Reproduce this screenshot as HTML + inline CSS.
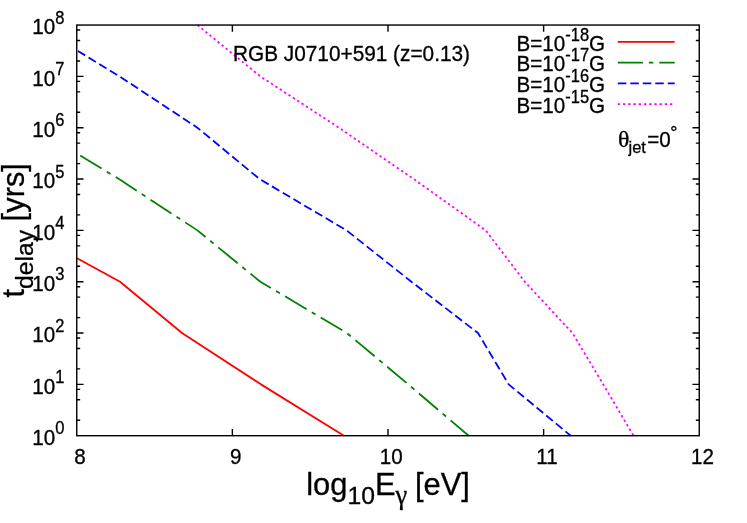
<!DOCTYPE html>
<html><head><meta charset="utf-8"><title>plot</title>
<style>html,body{margin:0;padding:0;background:#fff;}svg{display:block;will-change:transform;}text{font-family:"Liberation Sans",sans-serif;fill:#000;stroke:#000;stroke-width:0.3px;}.sym{font-family:"Liberation Serif",serif;}</style>
</head><body>
<svg width="747" height="523" viewBox="0 0 747 523">
<rect x="0" y="0" width="747" height="523" fill="#fff"/>
<g fill="none" stroke-width="1.78" stroke-linejoin="round" stroke-linecap="butt">
<polyline points="77.07,258.20 120.04,281.71 182.01,333.04 260.95,384.37 343.94,435.70" stroke="#ff0000"/>
<polyline points="80.18,155.53 118.95,179.04 197.42,230.38 260.33,281.71 346.90,333.04 408.24,384.37 468.65,435.70" stroke="#008000" stroke-dasharray="25.1 6.0 4.4 6.0"/>
<polyline points="77.30,50.56 119.57,76.38 197.42,127.71 259.55,179.04 346.58,230.38 411.36,281.71 477.99,333.04 508.67,384.37 570.64,435.70" stroke="#0000ff" stroke-dasharray="8.55 3.93" stroke-dashoffset="-0.7"/>
<polyline points="197.42,25.05 260.33,76.38 338.95,127.71 413.69,179.04 485.78,230.38 524.70,281.71 572.50,333.04 603.18,384.37 633.54,435.70" stroke="#ff00ff" stroke-dasharray="2.35 2.8684"/>
</g>
<g fill="none" stroke-width="1.78">
<line x1="617.8" y1="41.85" x2="674.7" y2="41.85" stroke="#ff0000"/>
<line x1="617.8" y1="62.65" x2="674.7" y2="62.65" stroke="#008000" stroke-dasharray="25.1 6.0 4.4 6.0"/>
<line x1="617.8" y1="83.4" x2="674.7" y2="83.4" stroke="#0000ff" stroke-dasharray="8.55 3.93"/>
<line x1="617.8" y1="104.15" x2="674.7" y2="104.15" stroke="#ff00ff" stroke-dasharray="2.35 2.8684"/>
</g>
<path d="M76.75 420.25L80.15 420.25M699.25 420.25L695.85 420.25M76.75 399.82L80.15 399.82M699.25 399.82L695.85 399.82M76.75 389.34L80.15 389.34M699.25 389.34L695.85 389.34M76.75 384.37L83.55 384.37M699.25 384.37L692.45 384.37M76.75 368.92L80.15 368.92M699.25 368.92L695.85 368.92M76.75 348.49L80.15 348.49M699.25 348.49L695.85 348.49M76.75 338.01L80.15 338.01M699.25 338.01L695.85 338.01M76.75 333.04L83.55 333.04M699.25 333.04L692.45 333.04M76.75 317.59L80.15 317.59M699.25 317.59L695.85 317.59M76.75 297.16L80.15 297.16M699.25 297.16L695.85 297.16M76.75 286.68L80.15 286.68M699.25 286.68L695.85 286.68M76.75 281.71L83.55 281.71M699.25 281.71L692.45 281.71M76.75 266.25L80.15 266.25M699.25 266.25L695.85 266.25M76.75 245.83L80.15 245.83M699.25 245.83L695.85 245.83M76.75 235.35L80.15 235.35M699.25 235.35L695.85 235.35M76.75 230.38L83.55 230.38M699.25 230.38L692.45 230.38M76.75 214.92L80.15 214.92M699.25 214.92L695.85 214.92M76.75 194.50L80.15 194.50M699.25 194.50L695.85 194.50M76.75 184.02L80.15 184.02M699.25 184.02L695.85 184.02M76.75 179.04L83.55 179.04M699.25 179.04L692.45 179.04M76.75 163.59L80.15 163.59M699.25 163.59L695.85 163.59M76.75 143.16L80.15 143.16M699.25 143.16L695.85 143.16M76.75 132.69L80.15 132.69M699.25 132.69L695.85 132.69M76.75 127.71L83.55 127.71M699.25 127.71L692.45 127.71M76.75 112.26L80.15 112.26M699.25 112.26L695.85 112.26M76.75 91.83L80.15 91.83M699.25 91.83L695.85 91.83M76.75 81.36L80.15 81.36M699.25 81.36L695.85 81.36M76.75 76.38L83.55 76.38M699.25 76.38L692.45 76.38M76.75 60.93L80.15 60.93M699.25 60.93L695.85 60.93M76.75 40.50L80.15 40.50M699.25 40.50L695.85 40.50M76.75 30.02L80.15 30.02M699.25 30.02L695.85 30.02M232.38 435.70L232.38 428.90M232.38 25.05L232.38 31.85M388.00 435.70L388.00 428.90M388.00 25.05L388.00 31.85M543.62 435.70L543.62 428.90M543.62 25.05L543.62 31.85" stroke="#000" stroke-width="1.4" fill="none"/>
<rect x="76.75" y="25.05" width="622.5" height="410.65" fill="none" stroke="#000" stroke-width="1.4"/>
<text transform="translate(64.30,445.00) scale(1,1.07)" font-size="20.6" text-anchor="end">10<tspan dy="-10.09" font-size="16.5">0</tspan></text>
<text transform="translate(64.30,393.67) scale(1,1.07)" font-size="20.6" text-anchor="end">10<tspan dy="-10.09" font-size="16.5">1</tspan></text>
<text transform="translate(64.30,342.34) scale(1,1.07)" font-size="20.6" text-anchor="end">10<tspan dy="-10.09" font-size="16.5">2</tspan></text>
<text transform="translate(64.30,291.01) scale(1,1.07)" font-size="20.6" text-anchor="end">10<tspan dy="-10.09" font-size="16.5">3</tspan></text>
<text transform="translate(64.30,239.68) scale(1,1.07)" font-size="20.6" text-anchor="end">10<tspan dy="-10.09" font-size="16.5">4</tspan></text>
<text transform="translate(64.30,188.34) scale(1,1.07)" font-size="20.6" text-anchor="end">10<tspan dy="-10.09" font-size="16.5">5</tspan></text>
<text transform="translate(64.30,137.01) scale(1,1.07)" font-size="20.6" text-anchor="end">10<tspan dy="-10.09" font-size="16.5">6</tspan></text>
<text transform="translate(64.30,85.68) scale(1,1.07)" font-size="20.6" text-anchor="end">10<tspan dy="-10.09" font-size="16.5">7</tspan></text>
<text transform="translate(64.30,34.35) scale(1,1.07)" font-size="20.6" text-anchor="end">10<tspan dy="-10.09" font-size="16.5">8</tspan></text>
<text transform="translate(80.05,463.50) scale(1,1.07)" font-size="20.6" text-anchor="middle">8</text>
<text transform="translate(235.68,463.50) scale(1,1.07)" font-size="20.6" text-anchor="middle">9</text>
<text transform="translate(391.30,463.50) scale(1,1.07)" font-size="20.6" text-anchor="middle">10</text>
<text transform="translate(546.92,463.50) scale(1,1.07)" font-size="20.6" text-anchor="middle">11</text>
<text transform="translate(702.55,463.50) scale(1,1.07)" font-size="20.6" text-anchor="middle">12</text>
<text transform="translate(233.00,60.50) scale(1.01,1.07)" font-size="20.6">RGB J0710+591 (z=0.13)</text>
<text transform="translate(605.10,50.50) scale(1,1.07)" font-size="20.6" text-anchor="end">B=10<tspan dy="-9.35" font-size="16.5">-18</tspan><tspan dy="9.35" font-size="20.6">G</tspan></text>
<text transform="translate(605.10,71.25) scale(1,1.07)" font-size="20.6" text-anchor="end">B=10<tspan dy="-9.35" font-size="16.5">-17</tspan><tspan dy="9.35" font-size="20.6">G</tspan></text>
<text transform="translate(605.10,92.00) scale(1,1.07)" font-size="20.6" text-anchor="end">B=10<tspan dy="-9.35" font-size="16.5">-16</tspan><tspan dy="9.35" font-size="20.6">G</tspan></text>
<text transform="translate(605.10,112.70) scale(1,1.07)" font-size="20.6" text-anchor="end">B=10<tspan dy="-9.35" font-size="16.5">-15</tspan><tspan dy="9.35" font-size="20.6">G</tspan></text>
<text transform="translate(618.0,147.1) scale(1.15,1.07)" font-size="20.6" class="sym">θ</text>
<text transform="translate(628.50,152.90) scale(1,1.02)" font-size="16.5">jet</text>
<text transform="translate(647.20,147.10) scale(1,1.07)" font-size="20.6">=0</text>
<text transform="translate(670.20,138.80) scale(1,1.07)" font-size="18">°</text>
<text transform="translate(24.20,297.60) rotate(-90)" font-size="30.9">t<tspan dy="8.8" font-size="24.7">delay</tspan><tspan dy="-8.8"> [yrs]</tspan></text>
<text transform="translate(306.20,494.90)" font-size="30.9">log<tspan dy="8.8" font-size="24.7">10</tspan><tspan dy="-8.8">E</tspan><tspan dy="8.8" font-size="26.5" class="sym">γ</tspan><tspan dy="-8.8" dx="-0.8"> [eV]</tspan></text>
</svg>
</body></html>
